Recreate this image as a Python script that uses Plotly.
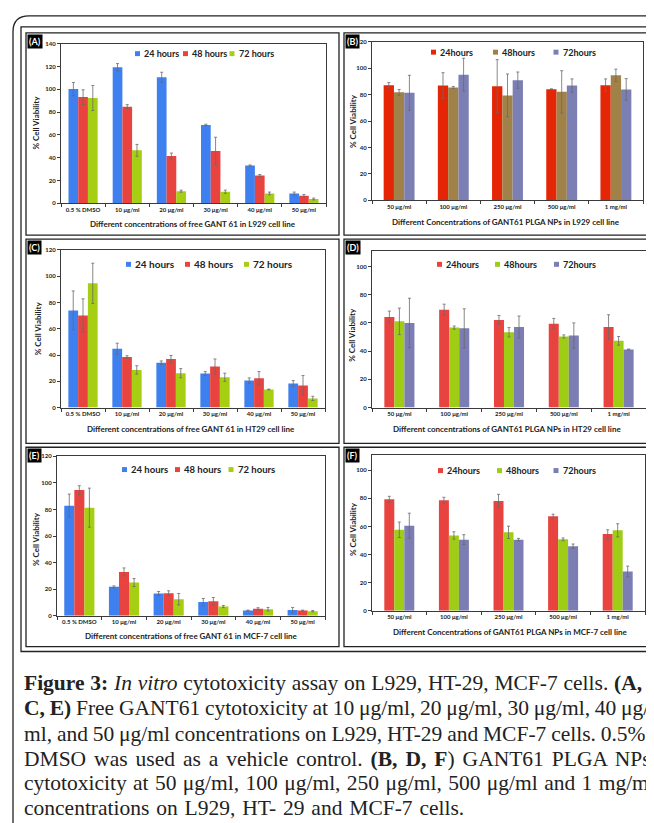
import plotly.graph_objects as go

W, H = 654, 823
OFF = 8  # page body margin of the html page


def px(x):
    return (x - OFF) / W


def py(y):
    return 1 - (y - OFF) / H


# ---------------- data ----------------
cats_free = ["0.5 % DMSO", "10 μg/ml", "20 μg/ml", "30 μg/ml", "40 μg/ml", "50 μg/ml"]
cats_np = ["50 μg/ml", "100 μg/ml", "250 μg/ml", "500 μg/ml", "1 mg/ml"]
series_free = ["24 hours", "48 hours", "72 hours"]
series_np = ["24hours", "48hours", "72hours"]

a_24 = [100.2, 119.4, 110.7, 68.8, 33.1, 8.7]
a_24_err = [5.8, 3.2, 4.3, 0.6, 0.6, 1.2]
a_48 = [93.2, 84.8, 41.5, 45.9, 24.4, 6.7]
a_48_err = [6.4, 1.8, 2.6, 12.1, 0.9, 1.1]
a_72 = [92.4, 46.5, 10.7, 10.2, 8.7, 3.8]
a_72_err = [11.0, 5.2, 0.9, 1.4, 1.2, 0.8]

b_24 = [87.1, 86.9, 86.4, 84.1, 87.1]
b_24_err = [2.0, 9.7, 20.1, 0.3, 4.8]
b_48 = [81.7, 85.4, 79.4, 82.1, 94.6]
b_48_err = [2.2, 0.8, 16.2, 16.0, 4.7]
b_72 = [81.4, 95.1, 90.9, 86.9, 83.9]
b_72_err = [13.2, 12.4, 6.2, 5.0, 8.2]

c_24 = [74.0, 44.8, 34.2, 25.9, 20.6, 18.4]
c_24_err = [14.8, 4.2, 1.3, 1.5, 2.0, 2.2]
c_48 = [70.2, 38.5, 37.0, 31.2, 22.4, 16.9]
c_48_err = [12.6, 1.0, 2.7, 5.8, 5.0, 7.5]
c_72 = [94.6, 28.7, 26.2, 23.1, 13.8, 7.0]
c_72_err = [15.3, 3.2, 3.5, 3.1, 0.3, 1.6]

d_24 = [64.2, 69.3, 62.1, 59.5, 57.1]
d_24_err = [4.2, 4.0, 3.2, 3.7, 8.7]
d_48 = [61.1, 56.7, 53.4, 50.4, 47.3]
d_48_err = [9.4, 1.1, 3.3, 1.1, 3.1]
d_72 = [60.0, 56.2, 57.1, 51.1, 41.2]
d_72_err = [17.5, 13.8, 7.8, 8.9, 0.3]

e_24 = [82.8, 21.8, 16.8, 10.3, 4.0, 4.3]
e_24_err = [8.7, 0.7, 1.5, 2.7, 0.3, 2.0]
e_48 = [94.5, 33.0, 17.0, 11.0, 5.3, 4.0]
e_48_err = [3.3, 3.0, 1.8, 2.8, 0.8, 0.3]
e_72 = [81.3, 25.0, 12.5, 7.0, 5.0, 3.5]
e_72_err = [14.7, 3.0, 4.3, 0.8, 1.3, 0.5]

f_24 = [79.3, 78.6, 78.1, 67.3, 54.6]
f_24_err = [2.1, 2.1, 4.7, 1.4, 3.0]
f_48 = [57.6, 53.6, 55.8, 50.8, 57.2]
f_48_err = [5.5, 2.6, 4.4, 1.0, 4.7]
f_72 = [60.5, 50.6, 50.6, 45.9, 28.0]
f_72_err = [8.9, 3.5, 0.9, 1.6, 3.8]

x_titles = [
    "Different concentrations of free GANT 61 in L929 cell line",
    "Different Concentrations of GANT61 PLGA NPs in L929 cell line",
    "Different concentrations of free GANT 61 in HT29 cell line",
    "Different concentrations of GANT61 PLGA NPs in HT29 cell line",
    "Different concentrations of free GANT 61 in MCF-7 cell line",
    "Different Concentrations of GANT61 PLGA NPs in MCF-7 cell line",
]
panel_labels = ["(A)", "(B)", "(C)", "(D)", "(E)", "(F)"]
y_title = "% Cell Viability"

caption_lines = [
    "<b>Figure 3:</b> <i>In vitro</i> cytotoxicity assay on L929, HT-29, MCF-7 cells. <b>(A,</b>",
    "<b>C, E)</b> Free GANT61 cytotoxicity at 10 μg/ml, 20 μg/ml, 30 μg/ml, 40 μg/",
    "ml, and 50 μg/ml concentrations on L929, HT-29 and MCF-7 cells. 0.5%",
    "DMSO was used as a vehicle control. <b>(B, D, F</b>) GANT61 PLGA NPs",
    "cytotoxicity at 50 μg/ml, 100 μg/ml, 250 μg/ml, 500 μg/ml and 1 mg/ml",
    "concentrations on L929, HT- 29 and MCF-7 cells.",
]
caption_wordspacing = [0.4, -0.6, -0.55, 2.6, 1.0, 1.5]

# ---------------- styles ----------------
free_colors = ["#3e80ef", "#e8433f", "#a6cf14"]
b_colors = ["#e42606", "#a08248", "#7c7fb4"]
df_colors = ["#e8433f", "#9fcd16", "#7b7db3"]
FONT = "Lato"
AX = "#3a3a3a"

panels = [
    dict(cats=cats_free, names=series_free, colors=free_colors,
         vals=[a_24, a_48, a_72], errs=[a_24_err, a_48_err, a_72_err],
         xd=(61, 326), yd=(40, 201), yr=140, w=0.22,
         box=(26, 29, 339, 233), xt=(193, 222), yt=(36.5, 120),
         leg=(50, [135, 183, 229.5]), lfs=9),
    dict(cats=cats_np, names=series_np, colors=b_colors,
         vals=[b_24, b_48, b_72], errs=[b_24_err, b_48_err, b_72_err],
         xd=(372, 643), yd=(38, 198), yr=120, w=0.19,
         box=(344, 29, 700, 233), xt=(506, 219.5), yt=(353, 118),
         leg=(48.5, [431, 493, 553.5]), lfs=9),
    dict(cats=cats_free, names=series_free, colors=free_colors,
         vals=[c_24, c_48, c_72], errs=[c_24_err, c_48_err, c_72_err],
         xd=(61, 325), yd=(248, 407), yr=120, w=0.222,
         box=(26, 237, 339, 443), xt=(191, 428.5), yt=(38, 327),
         leg=(262.5, [126, 185, 244]), lfs=10),
    dict(cats=cats_np, names=series_np, colors=df_colors,
         vals=[d_24, d_48, d_72], errs=[d_24_err, d_48_err, d_72_err],
         xd=(372, 646), yd=(249, 407), yr=111, w=0.183,
         box=(344, 237, 700, 443), xt=(507, 428.5), yt=(352.5, 334),
         leg=(262.5, [437, 495, 554]), lfs=9),
    dict(cats=cats_free, names=series_free, colors=free_colors,
         vals=[e_24, e_48, e_72], errs=[e_24_err, e_48_err, e_72_err],
         xd=(57, 325), yd=(456, 617), yr=120, w=0.225,
         box=(26, 447, 339, 648), xt=(191, 637), yt=(36.5, 540),
         leg=(469.5, [122, 175, 228.5]), lfs=9.5),
    dict(cats=cats_np, names=series_np, colors=df_colors,
         vals=[f_24, f_48, f_72], errs=[f_24_err, f_48_err, f_72_err],
         xd=(372, 645), yd=(455, 612), yr=110.6, w=0.183,
         box=(344, 447, 700, 648), xt=(510, 633.5), yt=(352.5, 530),
         leg=(470.5, [438, 497, 553.5]), lfs=9),
]

fig = go.Figure()
shapes = []
annotations = []
layout_axes = {}

# outer page border (rounded) and double frame
shapes.append(dict(type="path", xref="paper", yref="paper",
                   path=f"M {px(13)},{py(860)} L {px(13)},{py(28)} Q {px(13)},{py(12)} {px(29)},{py(12)} L {px(720)},{py(12)}",
                   line=dict(color="#222", width=1.3)))
shapes.append(dict(type="rect", xref="paper", yref="paper",
                   x0=px(21), y0=py(653), x1=px(720), y1=py(23),
                   line=dict(color="#222", width=1.3)))

for k, p in enumerate(panels, start=1):
    xa = "x" if k == 1 else f"x{k}"
    ya = "y" if k == 1 else f"y{k}"
    w = p["w"]
    offsets = [-1.5 * w, -0.5 * w, 0.5 * w]
    for s in range(3):
        fig.add_trace(go.Bar(
            x=p["cats"], y=p["vals"][s], name=p["names"][s],
            marker=dict(color=p["colors"][s], line=dict(width=0)),
            width=w, offset=offsets[s],
            error_y=dict(type="data", array=p["errs"][s], visible=True,
                         color="#6a6a6a", thickness=0.8, width=1.5),
            xaxis=xa, yaxis=ya, showlegend=False,
        ))
    xd, yd = p["xd"], p["yd"]
    layout_axes["xaxis" if k == 1 else f"xaxis{k}"] = dict(
        domain=[px(xd[0]), px(xd[1])], anchor=ya, type="category",
        showline=True, linecolor=AX, linewidth=1, mirror=True,
        ticks="outside", ticklen=3, tickcolor=AX, tickson="boundaries",
        tickfont=dict(family=FONT, size=6, color="#222", weight="bold"),
        showgrid=False, tickangle=0, fixedrange=True,
    )
    layout_axes["yaxis" if k == 1 else f"yaxis{k}"] = dict(
        domain=[py(yd[1]), py(yd[0])], anchor=xa, range=[0, p["yr"]], dtick=20,
        showline=True, linecolor=AX, linewidth=1, mirror=True,
        ticks="outside", ticklen=3, tickcolor=AX,
        tickfont=dict(family=FONT, size=6, color="#222", weight="bold"),
        showgrid=False, zeroline=False, fixedrange=True,
    )
    # panel frame
    b = p["box"]
    shapes.append(dict(type="rect", xref="paper", yref="paper",
                       x0=px(b[0]), y0=py(b[3]), x1=px(b[2]), y1=py(b[1]),
                       line=dict(color="#222", width=1.3)))
    # panel label
    annotations.append(dict(x=px(b[0] + 1), y=py(b[1] + 1), xref="paper", yref="paper",
                            xanchor="left", yanchor="top", showarrow=False,
                            text=f"<b>{panel_labels[k-1]}</b>", bgcolor="#000",
                            borderpad=1, font=dict(family=FONT, size=9, color="#fff")))
    # axis titles
    annotations.append(dict(x=px(p["xt"][0]), y=py(p["xt"][1]), xref="paper", yref="paper",
                            xanchor="center", yanchor="middle",
                            showarrow=False, text=f"<b>{x_titles[k-1]}</b>",
                            font=dict(family=FONT, size=8, color="#222")))
    annotations.append(dict(x=px(p["yt"][0]), y=py(p["yt"][1]), xref="paper", yref="paper",
                            xanchor="center", yanchor="middle",
                            showarrow=False, text=f"<b>{y_title}</b>", textangle=-90,
                            font=dict(family=FONT, size=8, color="#222")))
    # legend (squares + text)
    ly, lxs = p["leg"]
    for s in range(3):
        lx = lxs[s]
        shapes.append(dict(type="rect", xref="paper", yref="paper",
                           x0=px(lx), x1=px(lx + 5), y0=py(ly + 2.5), y1=py(ly - 2.5),
                           fillcolor=p["colors"][s], line=dict(width=0)))
        annotations.append(dict(x=px(lx + 7), y=py(ly), xref="paper", yref="paper",
                                xanchor="left", yanchor="middle", showarrow=False,
                                text=f"<b>{p['names'][s]}</b>",
                                font=dict(family=FONT, size=p["lfs"], color="#222")))

# caption
cap_y = [685, 710, 736, 761, 786, 811]
for line, yy, ws in zip(caption_lines, cap_y, caption_wordspacing):
    txt = f"<span style='word-spacing:{ws}px'>{line}</span>" if ws else line
    annotations.append(dict(x=px(22), y=py(yy), xref="paper", yref="paper",
                            xanchor="left", yanchor="middle", showarrow=False,
                            text=txt, font=dict(family="Liberation Serif", size=21.5, color="#222")))

fig.update_layout(
    width=W, height=H, margin=dict(l=0, r=0, t=0, b=0),
    paper_bgcolor="#fff", plot_bgcolor="#fff",
    barmode="overlay", showlegend=False,
    shapes=shapes, annotations=annotations,
    **layout_axes,
)

fig.write_html("out.html")
